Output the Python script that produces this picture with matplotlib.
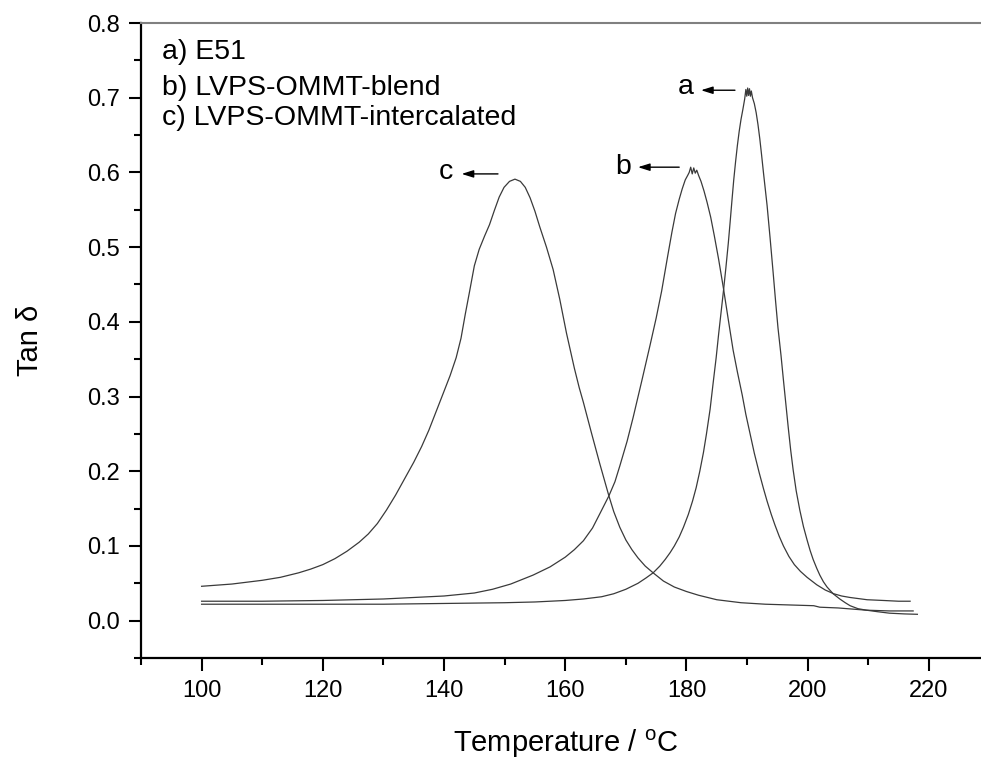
import matplotlib
matplotlib.use("Agg")
import matplotlib.pyplot as plt
from matplotlib.ticker import MultipleLocator, FormatStrFormatter

plt.rcParams['font.family'] = ['Liberation Sans', 'DejaVu Sans']
plt.rcParams['mathtext.fontset'] = 'custom'
plt.rcParams['mathtext.rm'] = 'Liberation Sans'

temp_a = [100, 110, 120, 130, 140, 150, 155, 160, 163, 166, 168, 170, 172, 173.3, 174.5, 175.6, 176.5,
          177.3, 178, 178.8, 179.5, 180.3, 181, 181.6, 182.2, 182.8, 183.3, 183.9, 184.4, 184.9,
          185.3, 185.7, 186.1, 186.5, 186.9, 187.2, 187.5, 187.8, 188.1, 188.4, 188.7, 189.0, 189.3,
          189.6, 189.8, 189.95, 190.1, 190.25, 190.4, 190.55, 190.7, 190.9, 191.2, 191.5, 191.8,
          192.1, 192.4, 192.7, 193.0, 193.3, 193.8, 194.3, 194.7, 195.1, 195.6, 196.0, 196.4, 196.8,
          197.2, 197.6, 198.1, 198.7, 199.3, 199.9, 200.4, 200.9, 201.5, 202.0, 202.6, 203.2, 204.2,
          205.3, 206.2, 207.0, 208.3, 209.7, 211.5, 213.5, 216.0, 218.1]
tan_a = [0.022, 0.022, 0.022, 0.022, 0.023, 0.024, 0.025, 0.027, 0.029, 0.032, 0.036, 0.042, 0.050,
         0.057, 0.064, 0.073, 0.082, 0.091, 0.100, 0.112, 0.125, 0.142, 0.160, 0.178, 0.200, 0.225,
         0.250, 0.283, 0.318, 0.352, 0.383, 0.412, 0.441, 0.472, 0.505, 0.533, 0.562, 0.590, 0.614,
         0.636, 0.655, 0.671, 0.684, 0.698, 0.711, 0.702, 0.713, 0.703, 0.712, 0.702, 0.709, 0.700,
         0.692, 0.680, 0.664, 0.645, 0.623, 0.600, 0.578, 0.556, 0.512, 0.466, 0.428, 0.392, 0.355,
         0.322, 0.290, 0.258, 0.228, 0.202, 0.174, 0.148, 0.126, 0.108, 0.094, 0.082, 0.070, 0.061,
         0.052, 0.045, 0.036, 0.029, 0.024, 0.020, 0.016, 0.014, 0.012, 0.010, 0.009, 0.0085]

temp_b = [100, 110, 120, 130, 140, 145, 148, 151, 154.7, 157.5, 160, 161.5, 163, 164.5, 165.7, 167.2,
          168.2, 169.0, 170.2, 171.2, 172.6, 174.0, 175.0, 175.9, 176.9, 177.6, 178.2, 178.8, 179.3,
          179.8, 180.2, 180.45, 180.7, 180.95, 181.2, 181.45, 181.7, 182.0, 182.4, 182.9, 183.4,
          184.0, 184.6, 185.3, 186.1, 186.9, 187.7, 188.4, 189.2, 189.8, 190.5, 191.2, 192.0,
          192.7, 193.3, 194.0, 194.6, 195.3, 196.0, 196.9, 197.8, 198.8, 199.9, 201.5, 202.9, 204.3,
          205.6, 207.0, 209.8, 212.5, 215.0, 216.9]
tan_b = [0.026, 0.026, 0.027, 0.029, 0.033, 0.037, 0.042, 0.049, 0.061, 0.072, 0.085, 0.095, 0.107,
         0.124, 0.143, 0.167, 0.186, 0.207, 0.240, 0.272, 0.320, 0.369, 0.405, 0.441, 0.488, 0.520,
         0.545, 0.564, 0.578, 0.590, 0.596, 0.600, 0.607, 0.598, 0.606, 0.599, 0.603, 0.596, 0.588,
         0.575, 0.560, 0.540, 0.515, 0.484, 0.445, 0.403, 0.362, 0.333, 0.302, 0.276, 0.250, 0.224,
         0.198, 0.177, 0.160, 0.142, 0.128, 0.113, 0.100, 0.086, 0.075, 0.066, 0.058, 0.048, 0.041,
         0.036, 0.033, 0.031, 0.028, 0.027, 0.026, 0.026]

temp_c = [100, 105, 110, 113, 114.5, 116, 118, 120, 122, 124, 126, 127.5, 129, 130.5, 132, 133.5, 135,
          136.3, 137.5, 138.7, 139.9, 141, 142, 142.8, 143.5, 144.2, 145.0, 145.8, 146.7, 147.5,
          148.3, 149.1, 149.9, 150.8, 151.7, 152.6, 153.4, 154.2, 155.0, 155.8, 156.9, 158.0, 159.1,
          160.2, 161.5, 162.3, 163.0, 164.3, 165.7, 167.2, 168.0, 169.0, 170.0, 171.0, 172.0, 173.2,
          174.5, 176.2, 178.0, 180.0, 182.0, 185.0, 189.0, 193.0, 197.0, 201.0, 202.0, 205.0, 209.7,
          213.5, 217.4]
tan_c = [0.046, 0.049, 0.054, 0.058, 0.061, 0.064, 0.069, 0.075, 0.083, 0.093, 0.105, 0.116, 0.130,
         0.148, 0.168, 0.190, 0.212, 0.233, 0.255, 0.280, 0.305, 0.328, 0.352, 0.378, 0.410, 0.440,
         0.475, 0.497, 0.515, 0.530, 0.549, 0.567, 0.580, 0.588, 0.591, 0.588, 0.580, 0.566, 0.548,
         0.527, 0.500, 0.470, 0.430, 0.385, 0.338, 0.312, 0.292, 0.252, 0.210, 0.167, 0.146, 0.125,
         0.108, 0.095, 0.084, 0.073, 0.064, 0.053, 0.045, 0.039, 0.034, 0.028, 0.024, 0.022, 0.021,
         0.020, 0.018, 0.017, 0.014, 0.013, 0.013]

legend_lines = ["a) E51", "b) LVPS-OMMT-blend", "c) LVPS-OMMT-intercalated"]
legend_y = [0.752, 0.704, 0.663]

fig = plt.figure(figsize=(9.81, 7.59), dpi=100)
ax = fig.add_axes([141 / 981, 101 / 759, 848.5 / 981, 635 / 759])

line_color = '#3a3a3a'
for t, v in [(temp_a, tan_a), (temp_b, tan_b), (temp_c, tan_c)]:
    ax.plot(t, v, color=line_color, lw=0.9)

ax.set_xlim(90, 230)
ax.set_ylim(-0.05, 0.8)
ax.xaxis.set_major_locator(MultipleLocator(20))
ax.xaxis.set_minor_locator(MultipleLocator(10))
ax.yaxis.set_major_locator(MultipleLocator(0.1))
ax.yaxis.set_minor_locator(MultipleLocator(0.05))
ax.yaxis.set_major_formatter(FormatStrFormatter('%.1f'))
ax.set_xticks([100, 120, 140, 160, 180, 200, 220])

ax.tick_params(which='major', direction='out', length=9, width=1.5, labelsize=17, pad=6)
ax.tick_params(which='minor', direction='out', length=5, width=1.5)
ax.tick_params(axis='x', which='major', pad=7)
ax.tick_params(top=False, right=False, which='both')

ax.spines['left'].set_linewidth(1.6)
ax.spines['bottom'].set_linewidth(1.6)
ax.spines['top'].set_linewidth(1.5)
ax.spines['top'].set_color('#808080')
ax.spines['right'].set_visible(False)

ax.set_xlabel('Temperature / $^{\\rm o}$C', fontsize=21, labelpad=18)
ax.set_ylabel('Tan \u03b4', fontsize=21, labelpad=31)

for txt, y in zip(legend_lines, legend_y):
    ax.text(93.4, y, txt, fontsize=20.5, ha='left', va='baseline')

# peak labels with arrows
labels = [('a', 179.8, 0.714, 188.0, 182.4, 0.710),
          ('b', 169.5, 0.607, 178.8, 172.0, 0.607),
          ('c', 140.3, 0.601, 148.9, 142.9, 0.598)]
for name, tx, ty, x0, x1, ya in labels:
    ax.text(tx, ty, name, fontsize=20.5, ha='center', va='center')
    ax.annotate('', xy=(x1, ya), xytext=(x0, ya),
                arrowprops=dict(arrowstyle='-|>,head_length=0.7,head_width=0.22',
                                color='black', lw=1.0, shrinkA=0, shrinkB=0))

fig.savefig('out.png', dpi=100)
